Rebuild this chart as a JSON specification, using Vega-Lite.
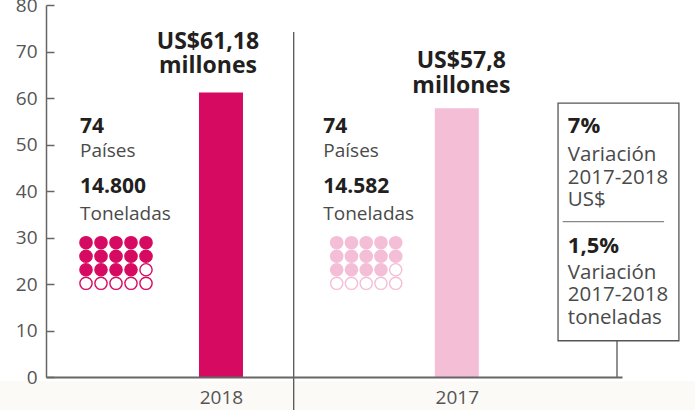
{
  "$schema": "https://vega.github.io/schema/vega-lite/v6.json",
  "width": 576,
  "height": 372,
  "autosize": "none",
  "padding": {"left": 46, "top": 5, "right": 73, "bottom": 33},
  "background": "white",
  "config": {
    "view": {"stroke": null},
    "font": "Open Sans",
    "text": {"font": "Open Sans"}
  },
  "datasets": {
    "years": [
      {"year": 2018, "usd": 61.18, "usd_label": ["US$61,18", "millones"], "paises": "74", "toneladas": "14.800"},
      {"year": 2017, "usd": 57.8, "usd_label": ["US$57,8", "millones"], "paises": "74", "toneladas": "14.582"}
    ],
    "box": [
      {"item": "usd", "pct": "7%", "desc": ["Variación", "2017-2018", "US$"]},
      {"item": "ton", "pct": "1,5%", "desc": ["Variación", "2017-2018", "toneladas"]}
    ],
    "dots": [
      {"year": 2018, "row": 1, "col": 1, "filled": true},
      {"year": 2018, "row": 1, "col": 2, "filled": true},
      {"year": 2018, "row": 1, "col": 3, "filled": true},
      {"year": 2018, "row": 1, "col": 4, "filled": true},
      {"year": 2018, "row": 1, "col": 5, "filled": true},
      {"year": 2018, "row": 2, "col": 1, "filled": true},
      {"year": 2018, "row": 2, "col": 2, "filled": true},
      {"year": 2018, "row": 2, "col": 3, "filled": true},
      {"year": 2018, "row": 2, "col": 4, "filled": true},
      {"year": 2018, "row": 2, "col": 5, "filled": true},
      {"year": 2018, "row": 3, "col": 1, "filled": true},
      {"year": 2018, "row": 3, "col": 2, "filled": true},
      {"year": 2018, "row": 3, "col": 3, "filled": true},
      {"year": 2018, "row": 3, "col": 4, "filled": true},
      {"year": 2018, "row": 3, "col": 5, "filled": false},
      {"year": 2018, "row": 4, "col": 1, "filled": false},
      {"year": 2018, "row": 4, "col": 2, "filled": false},
      {"year": 2018, "row": 4, "col": 3, "filled": false},
      {"year": 2018, "row": 4, "col": 4, "filled": false},
      {"year": 2018, "row": 4, "col": 5, "filled": false},
      {"year": 2017, "row": 1, "col": 1, "filled": true},
      {"year": 2017, "row": 1, "col": 2, "filled": true},
      {"year": 2017, "row": 1, "col": 3, "filled": true},
      {"year": 2017, "row": 1, "col": 4, "filled": true},
      {"year": 2017, "row": 1, "col": 5, "filled": true},
      {"year": 2017, "row": 2, "col": 1, "filled": true},
      {"year": 2017, "row": 2, "col": 2, "filled": true},
      {"year": 2017, "row": 2, "col": 3, "filled": true},
      {"year": 2017, "row": 2, "col": 4, "filled": true},
      {"year": 2017, "row": 2, "col": 5, "filled": true},
      {"year": 2017, "row": 3, "col": 1, "filled": true},
      {"year": 2017, "row": 3, "col": 2, "filled": true},
      {"year": 2017, "row": 3, "col": 3, "filled": true},
      {"year": 2017, "row": 3, "col": 4, "filled": true},
      {"year": 2017, "row": 3, "col": 5, "filled": false},
      {"year": 2017, "row": 4, "col": 1, "filled": false},
      {"year": 2017, "row": 4, "col": 2, "filled": false},
      {"year": 2017, "row": 4, "col": 3, "filled": false},
      {"year": 2017, "row": 4, "col": 4, "filled": false},
      {"year": 2017, "row": 4, "col": 5, "filled": false}
    ]
  },
  "layer": [
    {
      "data": {"name": "years"},
      "layer": [
        {
          "data": {"values": [{}]},
          "mark": {"type": "rect", "color": "#fbfaf7"},
          "encoding": {
            "x": {"datum": 2018.95},
            "x2": {"datum": 2015.95},
            "y": {"datum": -0.9},
            "y2": {"datum": -7.5}
          }
        },
        {
          "data": {"values": [{}]},
          "mark": {"type": "rule", "color": "#555555", "strokeWidth": 1.3},
          "encoding": {
            "x": {"datum": 2017.6917},
            "y": {"datum": 74.2},
            "y2": {"datum": -7.5}
          }
        },
        {
          "data": {"values": [{}]},
          "mark": {"type": "rule", "color": "#555555", "strokeWidth": 1.3},
          "encoding": {
            "x": {"datum": 2016.3208},
            "y": {"datum": 0},
            "y2": {"datum": 7.8}
          }
        },
        {
          "mark": {"type": "bar", "width": 44},
          "encoding": {
            "x": {
              "field": "year", "type": "quantitative",
              "scale": {"domain": [2016.3208, 2018.7208], "reverse": true, "nice": false, "zero": false},
              "axis": {
                "title": null, "values": [2018, 2017], "format": "d", "ticks": false,
                "grid": false, "labelFontSize": 19, "labelColor": "#555555", "labelFont": "Open Sans",
                "labelPadding": 11, "domainColor": "#666666", "domainWidth": 2, "labelFlush": false,
                "labelOverlap": false, "zindex": 2
              }
            },
            "y": {
              "field": "usd", "type": "quantitative",
              "scale": {"domain": [0, 80], "nice": false, "zero": true},
              "axis": {
                "title": null, "values": [0, 10, 20, 30, 40, 50, 60, 70, 80], "grid": false,
                "tickSize": -8, "tickColor": "#666666", "tickWidth": 1.5,
                "domainColor": "#666666", "domainWidth": 1.5,
                "labelFontSize": 19, "labelColor": "#555555", "labelFont": "Open Sans",
                "labelPadding": 17, "labelOverlap": false, "labelFlush": false, "zindex": 2
              }
            },
            "color": {
              "field": "year", "type": "nominal",
              "scale": {"domain": [2018, 2017], "range": ["#d70a62", "#f4bed7"]},
              "legend": null
            }
          }
        },
        {
          "data": {"values": [{}]},
          "mark": {"type": "rect", "fill": "white", "stroke": "#555555", "strokeWidth": 1.3},
          "encoding": {
            "x": {"datum": 2016.5708},
            "x2": {"datum": 2016.0583},
            "y": {"datum": 58.9},
            "y2": {"datum": 7.8}
          }
        },
        {
          "data": {"values": [{}]},
          "mark": {"type": "rule", "color": "#888888", "strokeWidth": 1.3},
          "encoding": {
            "x": {"datum": 2016.551},
            "x2": {"datum": 2016.121},
            "y": {"datum": 33.4}
          }
        },
        {
          "data": {"name": "box"},
          "transform": [{"filter": "datum.item == 'usd'"}],
          "layer": [
            {
              "mark": {"type": "text", "align": "left", "baseline": "alphabetic", "fontSize": 22, "fontWeight": "bold", "color": "#231f20"},
              "encoding": {"x": {"datum": 2016.5292}, "y": {"datum": 52.4}, "text": {"field": "pct"}}
            },
            {
              "mark": {"type": "text", "align": "left", "baseline": "alphabetic", "fontSize": 20.5, "lineHeight": 22.5, "color": "#4a4a4a"},
              "encoding": {"x": {"datum": 2016.5292}, "y": {"datum": 46.4}, "text": {"field": "desc"}}
            }
          ]
        },
        {
          "data": {"name": "box"},
          "transform": [{"filter": "datum.item == 'ton'"}],
          "layer": [
            {
              "mark": {"type": "text", "align": "left", "baseline": "alphabetic", "fontSize": 22, "fontWeight": "bold", "color": "#231f20"},
              "encoding": {"x": {"datum": 2016.5292}, "y": {"datum": 26.6}, "text": {"field": "pct"}}
            },
            {
              "mark": {"type": "text", "align": "left", "baseline": "alphabetic", "fontSize": 20.5, "lineHeight": 22.5, "color": "#4a4a4a"},
              "encoding": {"x": {"datum": 2016.5292}, "y": {"datum": 21.1}, "text": {"field": "desc"}}
            }
          ]
        },
        {
          "transform": [{"filter": "datum.year == 2018"}],
          "layer": [
            {
              "mark": {"type": "text", "align": "center", "baseline": "bottom", "fontSize": 23, "fontWeight": "bold", "lineHeight": 23.5, "color": "#231f20", "dx": -13, "dy": -38.5},
              "encoding": {"x": {"field": "year", "type": "quantitative"}, "y": {"field": "usd", "type": "quantitative"}, "text": {"field": "usd_label"}}
            },
            {
              "mark": {"type": "text", "align": "left", "baseline": "alphabetic", "fontSize": 21, "fontWeight": "bold", "color": "#231f20", "dx": -141},
              "encoding": {"x": {"field": "year", "type": "quantitative"}, "y": {"datum": 52.47}, "text": {"field": "paises"}}
            },
            {
              "mark": {"type": "text", "align": "left", "baseline": "alphabetic", "fontSize": 19, "color": "#4a4a4a", "dx": -141},
              "encoding": {"x": {"field": "year", "type": "quantitative"}, "y": {"datum": 47.38}, "text": {"value": "Países"}}
            },
            {
              "mark": {"type": "text", "align": "left", "baseline": "alphabetic", "fontSize": 21, "fontWeight": "bold", "color": "#231f20", "dx": -141},
              "encoding": {"x": {"field": "year", "type": "quantitative"}, "y": {"datum": 39.5}, "text": {"field": "toneladas"}}
            },
            {
              "mark": {"type": "text", "align": "left", "baseline": "alphabetic", "fontSize": 19, "color": "#4a4a4a", "dx": -141},
              "encoding": {"x": {"field": "year", "type": "quantitative"}, "y": {"datum": 33.76}, "text": {"value": "Toneladas"}}
            }
          ]
        },
        {
          "transform": [{"filter": "datum.year == 2017"}],
          "layer": [
            {
              "mark": {"type": "text", "align": "center", "baseline": "bottom", "fontSize": 23, "fontWeight": "bold", "lineHeight": 24.5, "color": "#231f20", "dx": 4.5, "dy": -35},
              "encoding": {"x": {"field": "year", "type": "quantitative"}, "y": {"field": "usd", "type": "quantitative"}, "text": {"field": "usd_label"}}
            },
            {
              "mark": {"type": "text", "align": "left", "baseline": "alphabetic", "fontSize": 21, "fontWeight": "bold", "color": "#231f20", "dx": -133.5},
              "encoding": {"x": {"field": "year", "type": "quantitative"}, "y": {"datum": 52.47}, "text": {"field": "paises"}}
            },
            {
              "mark": {"type": "text", "align": "left", "baseline": "alphabetic", "fontSize": 19, "color": "#4a4a4a", "dx": -133.5},
              "encoding": {"x": {"field": "year", "type": "quantitative"}, "y": {"datum": 47.38}, "text": {"value": "Países"}}
            },
            {
              "mark": {"type": "text", "align": "left", "baseline": "alphabetic", "fontSize": 21, "fontWeight": "bold", "color": "#231f20", "dx": -133.5},
              "encoding": {"x": {"field": "year", "type": "quantitative"}, "y": {"datum": 39.5}, "text": {"field": "toneladas"}}
            },
            {
              "mark": {"type": "text", "align": "left", "baseline": "alphabetic", "fontSize": 19, "color": "#4a4a4a", "dx": -133.5},
              "encoding": {"x": {"field": "year", "type": "quantitative"}, "y": {"datum": 33.76}, "text": {"value": "Toneladas"}}
            }
          ]
        }
      ]
    },
    {
      "data": {"name": "dots"},
      "transform": [{"filter": "datum.year == 2018"}],
      "mark": {"type": "point", "shape": "circle", "size": 150, "strokeWidth": 1.4, "opacity": 1, "filled": true},
      "encoding": {
        "x": {"field": "col", "type": "ordinal", "scale": {"type": "point", "range": [40, 100], "padding": 0}, "axis": null},
        "y": {"field": "row", "type": "ordinal", "scale": {"type": "point", "range": [237.7, 278.3], "padding": 0}, "axis": null},
        "fill": {"condition": {"test": "datum.filled", "value": "#d70a62"}, "value": "white"},
        "stroke": {"value": "#d70a62"}
      }
    },
    {
      "data": {"name": "dots"},
      "transform": [{"filter": "datum.year == 2017"}],
      "mark": {"type": "point", "shape": "circle", "size": 150, "strokeWidth": 1.4, "opacity": 1, "filled": true},
      "encoding": {
        "x": {"field": "col", "type": "ordinal", "scale": {"type": "point", "range": [290.7, 349.7], "padding": 0}, "axis": null},
        "y": {"field": "row", "type": "ordinal", "scale": {"type": "point", "range": [237.7, 278.3], "padding": 0}, "axis": null},
        "fill": {"condition": {"test": "datum.filled", "value": "#f4bed7"}, "value": "white"},
        "stroke": {"value": "#f4bed7"}
      }
    }
  ],
  "resolve": {"scale": {"x": "independent", "y": "independent"}}
}
